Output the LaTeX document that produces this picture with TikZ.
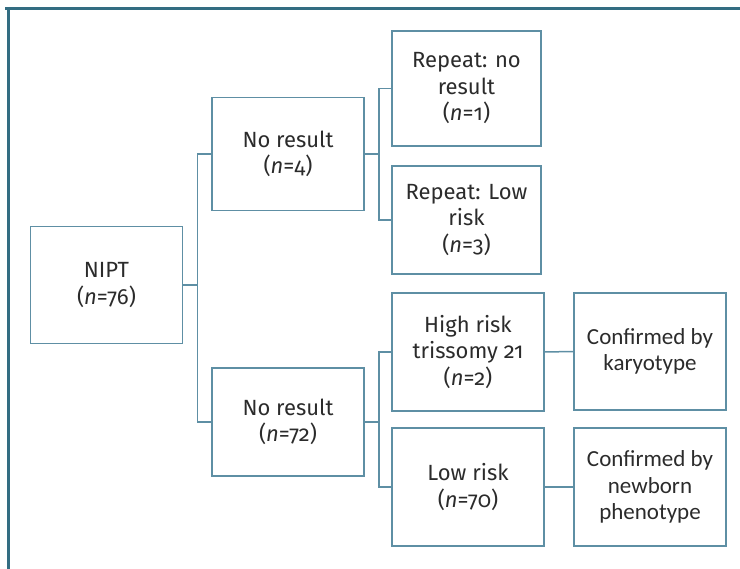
\documentclass[tikz,border=0pt]{standalone}
\usepackage{fontspec}
\setmainfont{Fira Sans}[Numbers=OldStyle]
\newfontfamily\calibri{Carlito}
\usetikzlibrary{positioning}

\definecolor{marco}{HTML}{336D82}
\definecolor{borde}{HTML}{5E8FA4}
\definecolor{texto}{HTML}{2B2B2B}

\tikzset{
    caja/.style={draw=borde, line width=1.5pt, rectangle, align=center,
        text=texto, font=\fontsize{22}{26.5}\selectfont,
        inner sep=0pt, minimum width=152pt},
    cajac/.style={caja, font=\calibri\fontsize{23}{26.5}\selectfont},
    rama/.style={draw=borde, line width=1.5pt},
}

\begin{document}
\begin{tikzpicture}[x=1pt, y=-1pt]
        % Paso 1: Fija el tamaño del dibujo
        \useasboundingbox (0,0) rectangle (740,569);

        % Paso 2: Dibuja el marco (solo arriba e izquierda)
        \draw[marco, line width=3pt] (5,8.5) -- (740,8.5);
        \draw[marco, line width=3pt] (8.5,7) -- (8.5,569);

        % Paso 3: Define las cajas de cada columna
        \node[caja, minimum height=117pt] (nipt) at (106.5,285)
            {NIPT\\(\textit{n}=76)};
        \node[caja, minimum height=113pt] (nr4) at (288,154)
            {No result\\(\textit{n}=4)};
        \node[caja, minimum height=108pt] (nr72) at (288,422)
            {No result\\(\textit{n}=72)};
        \node[caja, minimum width=149pt, minimum height=115pt] (rep1) at (466.5,88.5)
            {Repeat: no\\result\\(\textit{n}=1)};
        \node[caja, minimum width=149pt, minimum height=108pt] (rep3) at (466.5,220)
            {Repeat: Low\\risk\\(\textit{n}=3)};
        \node[caja, minimum height=118pt] (alto) at (468,352)
            {High risk\\trissomy 21\\(\textit{n}=2)};
        \node[caja, minimum height=118pt] (bajo) at (468,487)
            {Low risk\\(\textit{n}=70)};
        \node[cajac, minimum height=117pt] (cario) at (650,351.5)
            {Confirmed by\\karyotype};
        \node[cajac, minimum height=118pt] (feno) at (650,487)
            {Confirmed by\\newborn\\phenotype};

        % Paso 4: Une las cajas con ramas en escuadra
        \draw[rama] (nipt.east) -- ++(14,0) |- (nr4.west);
        \draw[rama] (nipt.east) -- ++(14,0) |- (nr72.west);
        \draw[rama] (nr4.east) -- ++(14,0) |- (rep1.west);
        \draw[rama] (nr4.east) -- ++(14,0) |- (rep3.west);
        \draw[rama] (nr72.east) -- ++(14,0) |- (alto.west);
        \draw[rama] (nr72.east) -- ++(14,0) |- (bajo.west);

        % Paso 5: Confirmaciones
        \draw[rama] (alto.east) -- (cario.west);
        \draw[rama] (bajo.east) -- (feno.west);
    \end{tikzpicture}
\end{document}
